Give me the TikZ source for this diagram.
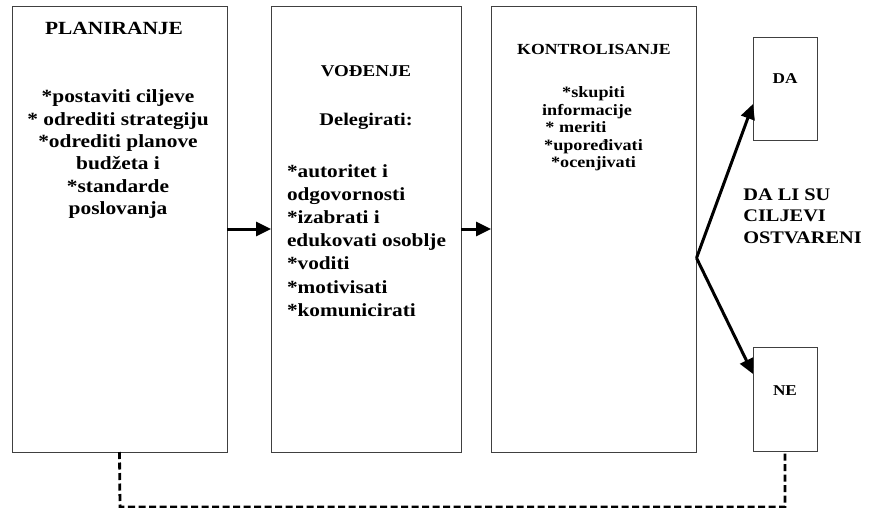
\documentclass[tikz,border=0pt]{standalone}
\usepackage{fontspec}
\setmainfont[FakeStretch=1.15]{Liberation Serif}
\usetikzlibrary{arrows.meta}
\newcommand\mlines[2]{\begin{tabular}[t]{@{}#1@{}}#2\end{tabular}}
\newcommand\fs[2]{\fontsize{#1}{#2}\selectfont\bfseries}
\begin{document}
\begin{tikzpicture}[x=1pt,y=-1pt,
  box/.style={draw=black!75, line width=0.9pt, inner sep=0pt, outer sep=0pt},
  txt/.style={inner sep=0pt, outer sep=0pt, anchor=base, text=black},
  arr/.style={line width=3pt, -{Triangle[length=15pt,width=14pt]}},
  dashline/.style={line width=2.8pt, dash pattern=on 7pt off 3.5pt}]
\useasboundingbox (0,0) rectangle (869,508);
% boxes
\node[box, minimum width=215pt, minimum height=446pt] (b1) at (119.5,229) {};
\node[box, minimum width=190pt, minimum height=446pt] (b2) at (366,229) {};
\node[box, minimum width=205pt, minimum height=446pt] (b3) at (593.5,229) {};
\node[box, minimum width=64pt, minimum height=103pt] (da) at (785,88.5) {};
\node[box, minimum width=64pt, minimum height=104pt] (ne) at (785,399) {};
% texts box 1
\node[txt] (t1h) at (114,35) {\fs{18.6}{22.4}PLANIRANJE};
\node[txt] (t1) at (118,102.7) {\fs{18.6}{22.4}\mlines{c}{*postaviti ciljeve\\{}* odrediti strategiju\\{}*odrediti planove\\budžeta i\\{}*standarde\\poslovanja}};
% texts box 2
\node[txt] (t2h) at (366,76.7) {\fs{16.5}{20}VOĐENJE};
\node[txt] (t2s) at (366,125) {\fs{17.8}{21}Delegirati:};
\node[txt, anchor=base west] (t2) at (287,177) {\fs{18.5}{23.2}\mlines{l}{*autoritet i\\odgovornosti\\{}*izabrati i\\edukovati osoblje\\{}*voditi\\{}*motivisati\\{}*komunicirati}};
% texts box 3
\node[txt] (t3h) at (594,54.3) {\fs{15.4}{18}KONTROLISANJE};
\node[txt] (t3) at (593.5,98) {\fs{15.8}{17.5}\mlines{c}{*skupiti\\informacije\hspace*{13pt}\\{}* meriti\hspace*{35pt}\\{}*upoređivati\\{}*ocenjivati}};
% right side
\node[txt] (tda) at (785,84) {\fs{15}{18}DA};
\node[txt] (tne) at (785,395) {\fs{15}{18}NE};
\node[txt, anchor=base west] (q) at (743.3,200) {\fs{17.7}{21.7}\mlines{l}{DA LI SU\\CILJEVI\\OSTVARENI}};
% connectors
\draw[arr] (b1.east) -- (b2.west);
\draw[arr] (b2.east) -- (b3.west);
\coordinate (apex) at (696.5,258);
\draw[arr] (apex) -- ([yshift=-15.5pt]da.west);
\draw[arr] (apex) -- ([yshift=25pt]ne.west);
\coordinate (low) at (120,507);
\draw[dashline] (b1.south) -- (low) -| (ne.south);
\end{tikzpicture}
\end{document}
